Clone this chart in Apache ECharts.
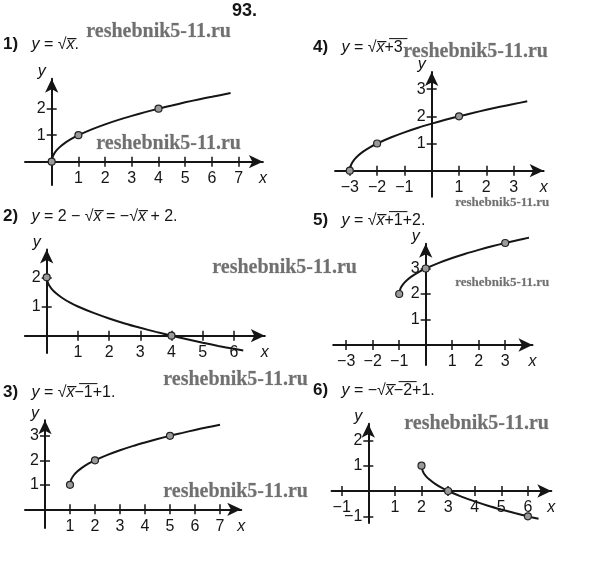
<!DOCTYPE html>
<html>
<head>
<meta charset="utf-8">
<script src="https://cdn.jsdelivr.net/npm/echarts@6/dist/echarts.min.js"></script>
<style>html,body{margin:0;padding:0;background:#fff}#c{width:600px;height:575px}</style>
</head>
<body>
<div id="c"></div>
<script>
// ---------- DATA ----------
// 1) y = sqrt(x)
const curve1X = [0, 0.05, 0.15, 0.3, 0.5, 0.75, 1, 1.5, 2, 2.5, 3, 3.5, 4, 4.5, 5, 5.5, 6, 6.7];
const curve1Y = [0, 0.22, 0.39, 0.55, 0.71, 0.87, 1, 1.22, 1.41, 1.58, 1.73, 1.87, 2, 2.12, 2.24, 2.35, 2.45, 2.59];
const pts1 = [[0, 0], [1, 1], [4, 2]];
const xTicks1 = [1, 2, 3, 4, 5, 6, 7];
const yTicks1 = [1, 2];
// 2) y = 2 - sqrt(x)
const curve2X = [0, 0.05, 0.15, 0.3, 0.5, 0.75, 1, 1.5, 2, 2.5, 3, 3.5, 4, 4.5, 5, 5.5, 6, 6.3];
const curve2Y = [2, 1.78, 1.61, 1.45, 1.29, 1.13, 1, 0.78, 0.59, 0.42, 0.27, 0.13, 0, -0.12, -0.24, -0.35, -0.45, -0.51];
const pts2 = [[0, 2], [4, 0]];
const xTicks2 = [1, 2, 3, 4, 5, 6];
const yTicks2 = [1, 2];
// 3) y = sqrt(x-1)+1
const curve3X = [1, 1.05, 1.15, 1.3, 1.5, 1.75, 2, 2.5, 3, 3.5, 4, 4.5, 5, 5.5, 6, 6.5, 7];
const curve3Y = [1, 1.22, 1.39, 1.55, 1.71, 1.87, 2, 2.22, 2.41, 2.58, 2.73, 2.87, 3, 3.12, 3.24, 3.35, 3.45];
const pts3 = [[1, 1], [2, 2], [5, 3]];
const xTicks3 = [1, 2, 3, 4, 5, 6, 7];
const yTicks3 = [1, 2, 3];
// 4) y = sqrt(x+3)
const curve4X = [-3, -2.95, -2.85, -2.7, -2.5, -2.25, -2, -1.5, -1, -0.5, 0, 0.5, 1, 1.5, 2, 2.5, 3, 3.5];
const curve4Y = [0, 0.22, 0.39, 0.55, 0.71, 0.87, 1, 1.22, 1.41, 1.58, 1.73, 1.87, 2, 2.12, 2.24, 2.35, 2.45, 2.55];
const pts4 = [[-3, 0], [-2, 1], [1, 2]];
const xTicks4 = [-3, -2, -1, 1, 2, 3];
const yTicks4 = [1, 2, 3];
// 5) y = sqrt(x+1)+2
const curve5X = [-1, -0.95, -0.85, -0.7, -0.5, -0.25, 0, 0.5, 1, 1.5, 2, 2.5, 3, 3.5, 3.9];
const curve5Y = [2, 2.22, 2.39, 2.55, 2.71, 2.87, 3, 3.22, 3.41, 3.58, 3.73, 3.87, 4, 4.12, 4.21];
const pts5 = [[-1, 2], [0, 3], [3, 4]];
const xTicks5 = [-3, -2, -1, 1, 2, 3];
const yTicks5 = [1, 2, 3];
// 6) y = -sqrt(x-2)+1
const curve6X = [2, 2.05, 2.15, 2.3, 2.5, 2.75, 3, 3.5, 4, 4.5, 5, 5.5, 6, 6.4];
const curve6Y = [1, 0.78, 0.61, 0.45, 0.29, 0.13, 0, -0.22, -0.41, -0.58, -0.73, -0.87, -1, -1.1];
const pts6 = [[2, 1], [3, 0], [6, -1]];
const xTicks6 = [-1, 1, 2, 3, 4, 5, 6];
const yTicks6 = [-1, 1, 2];

// ---------- LAYOUT (pixel origin, unit sizes, axis extents) ----------
const layouts = [
  {ox: 51.7, oy: 161.7, ux: 26.7, uy: 26.5, xmin: -1.0, xmax: 7.91, ymin: -0.88, ymax: 3.13},
  {ox: 46.7, oy: 335.7, ux: 31.2, uy: 29.2, xmin: -0.70, xmax: 6.99, ymin: -0.59, ymax: 2.95},
  {ox: 45.0, oy: 509.3, ux: 25.0, uy: 24.5, xmin: -0.8, xmax: 7.85, ymin: -0.76, ymax: 3.63},
  {ox: 431.7, oy: 170.7, ux: 27.3, uy: 27.2, xmin: -3.54, xmax: 4.10, ymin: -0.96, ymax: 3.63},
  {ox: 425.7, oy: 345.0, ux: 26.5, uy: 25.5, xmin: -3.49, xmax: 4.03, ymin: -0.78, ymax: 3.97},
  {ox: 368.3, oy: 491.0, ux: 26.6, uy: 25.3, xmin: -1.38, xmax: 6.88, ymin: -1.26, ymax: 2.66}
];
const curvesX = [curve1X, curve2X, curve3X, curve4X, curve5X, curve6X];
const curvesY = [curve1Y, curve2Y, curve3Y, curve4Y, curve5Y, curve6Y];
const pointSets = [pts1, pts2, pts3, pts4, pts5, pts6];
const xTickSets = [xTicks1, xTicks2, xTicks3, xTicks4, xTicks5, xTicks6];
const yTickSets = [yTicks1, yTicks2, yTicks3, yTicks4, yTicks5, yTicks6];

const INK = '#151515';
const NARROW = '"Liberation Sans Narrow", "Liberation Sans", sans-serif';
const fmt = v => (v < 0 ? '\u2212' + (-v) : '' + v);
const labelFont = {fontFamily: NARROW, fontSize: 16, color: INK};

const grid = [], xAxis = [], yAxis = [], series = [];
layouts.forEach((L, i) => {
  grid.push({
    left: L.ox + L.xmin * L.ux,
    top: L.oy - L.ymax * L.uy,
    width: (L.xmax - L.xmin) * L.ux,
    height: (L.ymax - L.ymin) * L.uy,
    containLabel: false,
    outerBoundsMode: 'none'
  });
  const axLine = {show: true, onZero: true, lineStyle: {color: INK, width: 2}, symbol: ['none', 'arrow'], symbolSize: [10, 14]};
  const tick = vals => ({show: true, customValues: vals, length: 5, inside: false, lineStyle: {color: INK, width: 1.5}});
  const xDist = -L.ymin * L.uy; // distance from grid bottom to the x=0 line
  const yDist = -L.xmin * L.ux; // distance from grid left to the y=0 line
  xAxis.push({
    type: 'value', gridIndex: i, min: L.xmin, max: L.xmax, position: 'bottom',
    axisLine: axLine, splitLine: {show: false},
    axisTick: tick(xTickSets[i]),
    axisLabel: Object.assign({show: true, customValues: xTickSets[i], formatter: fmt, margin: 9 - xDist}, labelFont),
    name: 'x', nameLocation: 'end', nameGap: 0,
    nameTextStyle: {fontFamily: NARROW, fontStyle: 'italic', fontSize: 16, color: INK, align: 'center', verticalAlign: 'top', padding: [9, 0, 0, 0]}
  });
  xAxis.push({
    type: 'value', gridIndex: i, min: L.xmin, max: L.xmax, position: 'top',
    axisLine: {show: false, onZero: true}, splitLine: {show: false},
    axisTick: tick(xTickSets[i]), axisLabel: {show: false}
  });
  yAxis.push({
    type: 'value', gridIndex: i, min: L.ymin, max: L.ymax, position: 'left',
    axisLine: axLine, splitLine: {show: false},
    axisTick: tick(yTickSets[i]),
    axisLabel: Object.assign({show: true, customValues: yTickSets[i], formatter: fmt, margin: 6 - yDist}, labelFont),
    name: 'y', nameLocation: 'end', nameGap: 7,
    nameTextStyle: {fontFamily: NARROW, fontStyle: 'italic', fontSize: 16, color: INK, align: 'right', verticalAlign: 'middle', padding: [0, 6, 0, 0]}
  });
  yAxis.push({
    type: 'value', gridIndex: i, min: L.ymin, max: L.ymax, position: 'right',
    axisLine: {show: false, onZero: true}, splitLine: {show: false},
    axisTick: tick(yTickSets[i]), axisLabel: {show: false}
  });
  series.push({
    type: 'line', xAxisIndex: 2 * i, yAxisIndex: 2 * i, showSymbol: false, smooth: 0.3, clip: false,
    lineStyle: {color: INK, width: 2}, z: 3,
    data: curvesX[i].map((x, k) => [x, curvesY[i][k]])
  });
  series.push({
    type: 'scatter', xAxisIndex: 2 * i, yAxisIndex: 2 * i, symbol: 'circle', symbolSize: 7, clip: false,
    itemStyle: {color: '#9a9a9a', borderColor: '#222', borderWidth: 1.2, opacity: 1}, z: 4,
    data: pointSets[i]
  });
});

// ---------- TITLES ----------
const O = '\u0305';
const rich = {
  b: {fontFamily: 'Liberation Sans', fontWeight: 'bold', fontSize: 17, color: INK},
  n: {fontFamily: 'Liberation Sans', fontWeight: 'normal', fontSize: 16, color: INK},
  i: {fontFamily: 'Liberation Sans', fontWeight: 'normal', fontStyle: 'italic', fontSize: 16, color: INK}
};
function title(left, top, text) {
  return {left: left, top: top, text: text, padding: 0, textStyle: {rich: rich, fontSize: 16, fontWeight: 'normal'}};
}
const titles = [
  {left: 232, top: 2, text: '93.', padding: 0, textStyle: {fontFamily: 'Liberation Sans', fontWeight: 'bold', fontSize: 18, color: INK}},
  title(3, 36, '{b|1)}{n|   }{i|y}{n| = √}{i|x' + O + '}{n|.}'),
  title(3, 208, '{b|2)}{n|   }{i|y}{n| = 2 − √}{i|x' + O + '}{n| = −√}{i|x' + O + '}{n| + 2.}'),
  title(3, 384, '{b|3)}{n|   }{i|y}{n| = √}{i|x' + O + '}{n|−' + O + '1' + O + '+1.}'),
  title(313, 39, '{b|4)}{n|   }{i|y}{n| = √}{i|x' + O + '}{n|+' + O + '3' + O + '}'),
  title(313, 212, '{b|5)}{n|   }{i|y}{n| = √}{i|x' + O + '}{n|+' + O + '1' + O + '+2.}'),
  title(313, 382, '{b|6)}{n|   }{i|y}{n| = −√}{i|x' + O + '}{n|−' + O + '2' + O + '+1.}')
];

// ---------- WATERMARKS ----------
const wm = (x, y, size) => ({
  type: 'text', left: x, top: y, z: 10,
  style: {text: 'reshebnik5-11.ru', fill: '#707070', font: 'bold ' + size + 'px "Liberation Serif"', stroke: '#cfcfcf', lineWidth: 0.5}
});
const graphic = [
  wm(86, 22, 20), wm(96, 134, 20), wm(403, 42, 20), wm(455, 196, 13),
  wm(212, 258, 20), wm(455, 276, 13), wm(163, 370, 20), wm(163, 482, 20), wm(404, 414, 20)
];

const chart = echarts.init(document.getElementById('c'));
chart.setOption({
  animation: false,
  backgroundColor: '#fff',
  title: titles,
  grid: grid, xAxis: xAxis, yAxis: yAxis, series: series, graphic: graphic
});
</script>
</body>
</html>
